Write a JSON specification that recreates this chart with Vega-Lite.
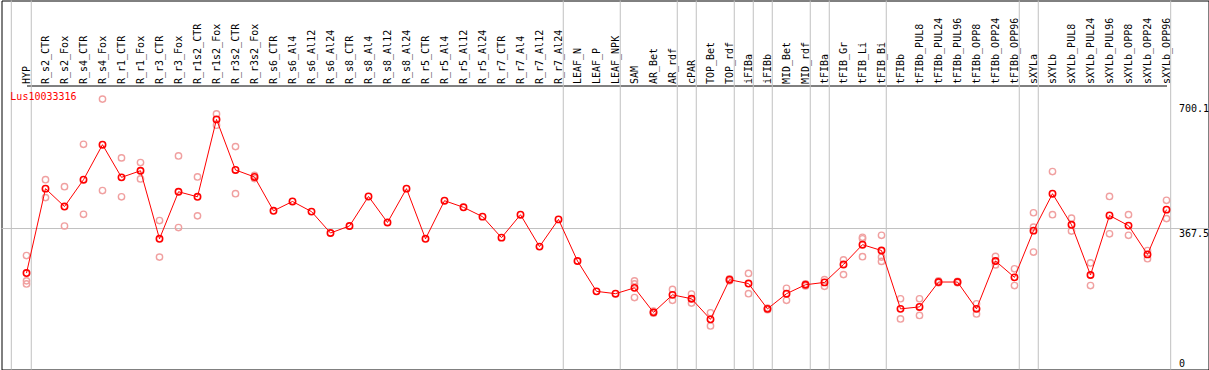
{
  "$schema": "https://vega.github.io/schema/vega-lite/v6.json",
  "autosize": {"type": "none"},
  "width": 1207,
  "height": 369,
  "padding": {"left": 1.5, "top": 0.5, "right": 0.5, "bottom": 0.5},
  "background": "white",
  "config": {
    "view": {"stroke": "black", "strokeWidth": 1},
    "font": "DejaVu Sans Mono"
  },
  "datasets": {
    "means": [
      {"i": 0, "sample": "HYP", "v": 253},
      {"i": 1, "sample": "R_s2_CTR", "v": 470},
      {"i": 2, "sample": "R_s2_Fox", "v": 424},
      {"i": 3, "sample": "R_s4_CTR", "v": 493},
      {"i": 4, "sample": "R_s4_Fox", "v": 583},
      {"i": 5, "sample": "R_r1_CTR", "v": 499},
      {"i": 6, "sample": "R_r1_Fox", "v": 516},
      {"i": 7, "sample": "R_r3_CTR", "v": 341},
      {"i": 8, "sample": "R_r3_Fox", "v": 462},
      {"i": 9, "sample": "R_r1s2_CTR", "v": 449},
      {"i": 10, "sample": "R_r1s2_Fox", "v": 648},
      {"i": 11, "sample": "R_r3s2_CTR", "v": 518},
      {"i": 12, "sample": "R_r3s2_Fox", "v": 500},
      {"i": 13, "sample": "R_s6_CTR", "v": 413},
      {"i": 14, "sample": "R_s6_Al4", "v": 437},
      {"i": 15, "sample": "R_s6_Al12", "v": 411},
      {"i": 16, "sample": "R_s6_Al24", "v": 356},
      {"i": 17, "sample": "R_s8_CTR", "v": 374},
      {"i": 18, "sample": "R_s8_Al4", "v": 450},
      {"i": 19, "sample": "R_s8_Al12", "v": 383},
      {"i": 20, "sample": "R_s8_Al24", "v": 470},
      {"i": 21, "sample": "R_r5_CTR", "v": 341},
      {"i": 22, "sample": "R_r5_Al4", "v": 439},
      {"i": 23, "sample": "R_r5_Al12", "v": 422},
      {"i": 24, "sample": "R_r5_Al24", "v": 398},
      {"i": 25, "sample": "R_r7_CTR", "v": 344},
      {"i": 26, "sample": "R_r7_Al4", "v": 403},
      {"i": 27, "sample": "R_r7_Al12", "v": 321},
      {"i": 28, "sample": "R_r7_Al24", "v": 391},
      {"i": 29, "sample": "LEAF_N", "v": 284},
      {"i": 30, "sample": "LEAF_P", "v": 206},
      {"i": 31, "sample": "LEAF_NPK", "v": 200},
      {"i": 32, "sample": "SAM", "v": 215},
      {"i": 33, "sample": "AR_Bet", "v": 152},
      {"i": 34, "sample": "AR_rdf", "v": 197},
      {"i": 35, "sample": "cPAR", "v": 187},
      {"i": 36, "sample": "TOP_Bet", "v": 134},
      {"i": 37, "sample": "TOP_rdf", "v": 236},
      {"i": 38, "sample": "iFIBa", "v": 226},
      {"i": 39, "sample": "iFIBb", "v": 161},
      {"i": 40, "sample": "MID_Bet", "v": 200},
      {"i": 41, "sample": "MID_rdf", "v": 223},
      {"i": 42, "sample": "tFIBa", "v": 229},
      {"i": 43, "sample": "tFIB_Gr", "v": 275},
      {"i": 44, "sample": "tFIB_Li", "v": 326},
      {"i": 45, "sample": "tFIB_Bi", "v": 311},
      {"i": 46, "sample": "tFIBb", "v": 161},
      {"i": 47, "sample": "tFIBb_PUL8", "v": 166},
      {"i": 48, "sample": "tFIBb_PUL24", "v": 230},
      {"i": 49, "sample": "tFIBb_PUL96", "v": 230},
      {"i": 50, "sample": "tFIBb_OPP8", "v": 161},
      {"i": 51, "sample": "tFIBb_OPP24", "v": 284},
      {"i": 52, "sample": "tFIBb_OPP96", "v": 242},
      {"i": 53, "sample": "sXYLa", "v": 362},
      {"i": 54, "sample": "sXYLb", "v": 457},
      {"i": 55, "sample": "sXYLb_PUL8", "v": 377},
      {"i": 56, "sample": "sXYLb_PUL24", "v": 248},
      {"i": 57, "sample": "sXYLb_PUL96", "v": 401},
      {"i": 58, "sample": "sXYLb_OPP8", "v": 375},
      {"i": 59, "sample": "sXYLb_OPP24", "v": 301},
      {"i": 60, "sample": "sXYLb_OPP96", "v": 416}
    ],
    "reps": [
      {"i": 0, "v": 298}, {"i": 0, "v": 233}, {"i": 0, "v": 225},
      {"i": 1, "v": 493}, {"i": 1, "v": 447},
      {"i": 2, "v": 475}, {"i": 2, "v": 374},
      {"i": 3, "v": 584}, {"i": 3, "v": 404},
      {"i": 4, "v": 700.1}, {"i": 4, "v": 465},
      {"i": 5, "v": 549}, {"i": 5, "v": 449},
      {"i": 6, "v": 537}, {"i": 6, "v": 495},
      {"i": 7, "v": 388}, {"i": 7, "v": 294},
      {"i": 8, "v": 554}, {"i": 8, "v": 370},
      {"i": 9, "v": 500}, {"i": 9, "v": 400},
      {"i": 10, "v": 662}, {"i": 10, "v": 633},
      {"i": 11, "v": 578}, {"i": 11, "v": 457},
      {"i": 12, "v": 504}, {"i": 12, "v": 496},
      {"i": 32, "v": 233}, {"i": 32, "v": 225}, {"i": 32, "v": 190},
      {"i": 33, "v": 155}, {"i": 33, "v": 150},
      {"i": 34, "v": 211}, {"i": 34, "v": 183},
      {"i": 35, "v": 199}, {"i": 35, "v": 176},
      {"i": 36, "v": 151}, {"i": 36, "v": 117},
      {"i": 37, "v": 238}, {"i": 37, "v": 233},
      {"i": 38, "v": 252}, {"i": 38, "v": 200},
      {"i": 39, "v": 163}, {"i": 39, "v": 159},
      {"i": 40, "v": 214}, {"i": 40, "v": 183},
      {"i": 41, "v": 225}, {"i": 41, "v": 220},
      {"i": 42, "v": 236}, {"i": 42, "v": 219},
      {"i": 43, "v": 287}, {"i": 43, "v": 249},
      {"i": 44, "v": 345}, {"i": 44, "v": 341}, {"i": 44, "v": 295},
      {"i": 45, "v": 350}, {"i": 45, "v": 294}, {"i": 45, "v": 283},
      {"i": 46, "v": 187}, {"i": 46, "v": 135},
      {"i": 47, "v": 187}, {"i": 47, "v": 144},
      {"i": 48, "v": 233}, {"i": 48, "v": 228},
      {"i": 49, "v": 232}, {"i": 49, "v": 228},
      {"i": 50, "v": 174}, {"i": 50, "v": 148},
      {"i": 51, "v": 296}, {"i": 51, "v": 274},
      {"i": 52, "v": 264}, {"i": 52, "v": 221},
      {"i": 53, "v": 408}, {"i": 53, "v": 371}, {"i": 53, "v": 307},
      {"i": 54, "v": 514}, {"i": 54, "v": 403},
      {"i": 55, "v": 394}, {"i": 55, "v": 361},
      {"i": 56, "v": 279}, {"i": 56, "v": 221},
      {"i": 57, "v": 450}, {"i": 57, "v": 354},
      {"i": 58, "v": 403}, {"i": 58, "v": 350},
      {"i": 59, "v": 311}, {"i": 59, "v": 290},
      {"i": 60, "v": 440}, {"i": 60, "v": 393}
    ],
    "seps": [
      {"pos": -0.8}, {"pos": 0.25}, {"pos": 28.25}, {"pos": 31.25},
      {"pos": 34.25}, {"pos": 35.25}, {"pos": 37.25}, {"pos": 38.25},
      {"pos": 39.25}, {"pos": 41.25}, {"pos": 42.25}, {"pos": 45.25},
      {"pos": 52.25}, {"pos": 53.25}, {"pos": 60.22}
    ],
    "gene": [{"name": "Lus10033316", "i": -0.85, "v": 705}],
    "grid": [{"v": 367.5}]
  },
  "resolve": {"scale": {"x": "independent"}, "axis": {"x": "independent"}},
  "layer": [
    {
      "data": {"name": "seps"},
      "mark": {"type": "rule", "color": "#c0c0c0", "strokeWidth": 1},
      "encoding": {
        "x": {
          "field": "pos", "type": "quantitative",
          "scale": {"domain": [0, 60], "range": [25, 1165], "nice": false, "zero": false},
          "axis": null
        }
      }
    },
    {
      "data": {"name": "grid"},
      "mark": {"type": "rule", "color": "#c0c0c0", "strokeWidth": 1},
      "encoding": {
        "y": {
          "field": "v", "type": "quantitative",
          "scale": {"domain": [0, 735.1], "range": [371, 85], "nice": false, "zero": true},
          "axis": {
            "orient": "right", "offset": -30, "title": null,
            "values": [0, 367.5, 700.1],
            "labelExpr": "datum.value == 0 ? '0' : format(datum.value, '.1f')",
            "labelFont": "DejaVu Sans Mono", "labelFontSize": 10, "labelColor": "black",
            "labelAlign": "left",
            "labelBaseline": {"condition": {"test": "datum.value == 0", "value": "alphabetic"}, "value": "top"},
            "labelOffset": {"condition": [{"test": "datum.value == 0", "value": -5}, {"test": "datum.value > 600", "value": 4}], "value": 0},
            "labelPadding": 0, "labelOverlap": false, "labelFlush": false, "labelBound": false,
            "ticks": false, "grid": false, "domain": false
          }
        }
      }
    },
    {
      "data": {"name": "reps"},
      "mark": {"type": "point", "shape": "circle", "filled": false, "color": "#f0a0a0", "strokeWidth": 1.4, "size": 40, "opacity": 1},
      "encoding": {
        "x": {"field": "i", "type": "quantitative",
          "scale": {"domain": [0, 60], "range": [25, 1165], "nice": false, "zero": false},
          "axis": null},
        "y": {"field": "v", "type": "quantitative"}
      }
    },
    {
      "data": {"name": "means"},
      "mark": {"type": "line", "color": "#ff0000", "strokeWidth": 1},
      "encoding": {
        "x": {"field": "i", "type": "quantitative",
          "scale": {"domain": [0, 60], "range": [25, 1165], "nice": false, "zero": false},
          "axis": null},
        "y": {"field": "v", "type": "quantitative"}
      }
    },
    {
      "data": {"name": "means"},
      "mark": {"type": "point", "shape": "circle", "filled": false, "color": "#ff0000", "strokeWidth": 1.6, "size": 40, "opacity": 1},
      "encoding": {
        "x": {
          "field": "sample", "type": "ordinal", "sort": null,
          "scale": {"type": "point", "range": [25, 1165], "padding": 0},
          "axis": {
            "orient": "top", "offset": -85, "title": null,
            "labelAngle": -90, "labelAlign": "left", "labelBaseline": "middle",
            "labelFont": "DejaVu Sans Mono", "labelFontSize": 10, "labelColor": "black",
            "labelPadding": 2, "labelOverlap": false, "labelBound": false,
            "ticks": false, "grid": false,
            "domain": true, "domainColor": "black", "domainWidth": 1
          }
        },
        "y": {"field": "v", "type": "quantitative"}
      }
    },
    {
      "data": {"name": "gene"},
      "mark": {"type": "text", "color": "#ff0000", "font": "DejaVu Sans Mono", "fontSize": 10, "align": "left", "baseline": "middle"},
      "encoding": {
        "x": {"field": "i", "type": "quantitative",
          "scale": {"domain": [0, 60], "range": [25, 1165], "nice": false, "zero": false},
          "axis": null},
        "y": {"field": "v", "type": "quantitative"},
        "text": {"field": "name"}
      }
    }
  ]
}
